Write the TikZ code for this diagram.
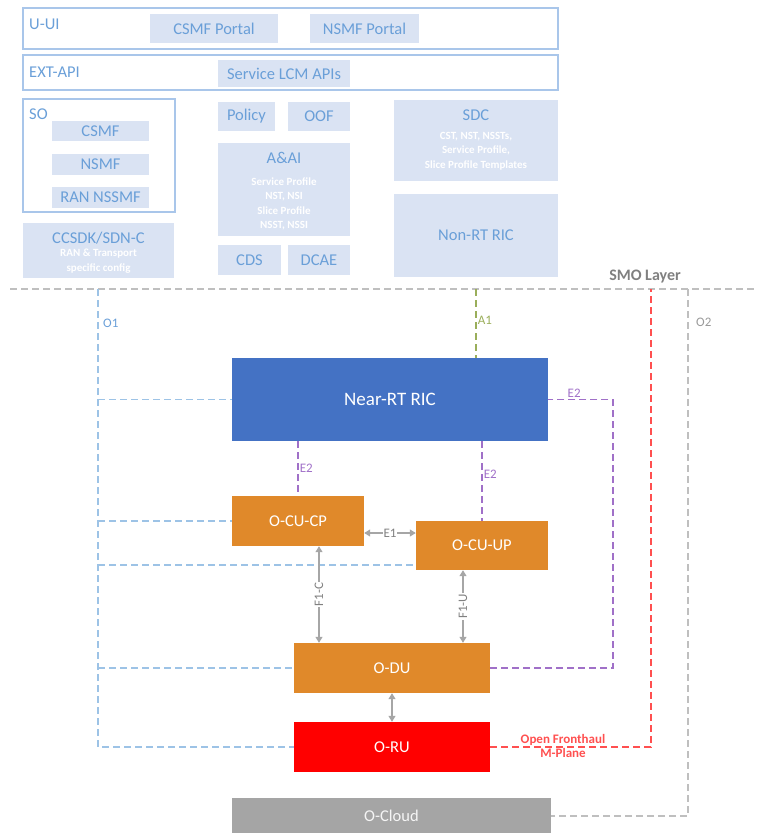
\documentclass[tikz,border=0pt]{standalone}
\usepackage{fontspec}
\setmainfont{Carlito}
\usetikzlibrary{arrows.meta}
\definecolor{lbfill}{HTML}{DAE3F3}
\definecolor{lbline}{HTML}{A9C6EA}
\definecolor{lbtext}{HTML}{6A9FD8}
\definecolor{ricblue}{HTML}{4472C4}
\definecolor{ranorange}{HTML}{E0892A}
\definecolor{cloudgray}{HTML}{A5A5A5}
\definecolor{o1col}{HTML}{9DC3E6}
\definecolor{e2col}{HTML}{A070C8}
\definecolor{a1col}{HTML}{9AAE5A}
\definecolor{mpcol}{HTML}{FF5050}
\definecolor{o2col}{HTML}{BFBFBF}
\definecolor{arrcol}{HTML}{A6A6A6}
\begin{document}
\begin{tikzpicture}[x=1pt, y=-1pt, font=\fontsize{16.5}{19}\selectfont, >={Triangle[width=7pt,length=6pt]},
	lbox/.style={fill=lbfill, text=lbtext, inner sep=0pt},
	frame/.style={draw=lbline, line width=1.2pt, inner sep=0pt},
	ranbox/.style={inner sep=0pt, text=white},
	sub/.style={text=white, align=center, font=\bfseries\fontsize{11}{14.5}\selectfont},
	lbl/.style={font=\fontsize{13}{15}\selectfont, inner sep=1pt},
	dashline/.style={line width=1.5pt, dash pattern=on 7pt off 4pt},
	arr/.style={draw=arrcol, line width=1.2pt, arrcol, <->}]
	\useasboundingbox (0,0) rectangle (758,833);
	\node[frame, minimum width=535pt, minimum height=41pt] (uui) at (290.5,28.5) {};
	\node[frame, minimum width=535pt, minimum height=35pt] (extapi) at (290.5,72.5) {};
	\node[frame, minimum width=152pt, minimum height=113pt] (so) at (99,155.5) {};
	\node[anchor=west, text=lbtext, inner sep=0pt] (uuilbl) at (29,24) {U-UI};
	\node[anchor=west, text=lbtext, inner sep=0pt] (extapilbl) at (29,72) {EXT-API};
	\node[anchor=west, text=lbtext, inner sep=0pt] (solbl) at (29,114) {SO};
	\foreach \n/\x/\y/\w/\h/\t in {csmfp/214/28.5/128/29/CSMF Portal, nsmfp/364.5/28.5/109/29/NSMF Portal,
		lcm/284/73.5/132/27/Service LCM APIs, csmf/100.5/131/97/20/CSMF, nsmf/100.5/164.5/97/21/NSMF,
		rannssmf/100.5/197.5/97/21/RAN NSSMF, policy/246.5/116.5/57/29/Policy, oof/319/116.5/62/29/OOF,
		cds/249.5/260/63/30/CDS, dcae/319/260/62/30/DCAE, nonrt/476/235.5/164/83/Non-RT RIC}{
		\node[lbox, minimum width=\w pt, minimum height=\h pt] (\n) at (\x,\y) {\t};
	}
	\node[lbox, minimum width=132pt, minimum height=93pt] (aai) at (284,189.5) {};
	\node[text=lbtext, inner sep=0pt] (aaititle) at (284,158) {A\&AI};
	\node[sub] (aaisub) at (284,204) {Service Profile\\NST, NSI\\Slice Profile\\NSST, NSSI};
	\node[lbox, minimum width=164pt, minimum height=81pt] (sdc) at (476,140.5) {};
	\node[text=lbtext, inner sep=0pt] (sdctitle) at (476,115) {SDC};
	\node[sub] (sdcsub) at (476,151) {CST, NST, NSSTs,\\Service Profile,\\Slice Profile Templates};
	\node[lbox, minimum width=151pt, minimum height=55pt] (ccsdk) at (98.5,250.5) {};
	\node[text=lbtext, inner sep=0pt] (ccsdktitle) at (98.5,238) {CCSDK/SDN-C};
	\node[sub] (ccsdksub) at (98.5,261) {RAN \& Transport\\specific config};
	\draw[o2col, line width=1.3pt, dash pattern=on 7pt off 4pt] (10,289) coordinate (smoa) -- (758,289) coordinate (smob);
	\node[text=gray, font=\bfseries\fontsize{16}{19}\selectfont, inner sep=0pt] (smolbl) at (645,277) {SMO Layer};
	\node[ranbox, fill=ricblue, minimum width=316pt, minimum height=83pt, font=\fontsize{19}{22}\selectfont] (nearrt) at (390,399.5) {Near-RT RIC};
	\node[ranbox, fill=ranorange, minimum width=132pt, minimum height=50pt] (ocucp) at (298,521) {O-CU-CP};
	\node[ranbox, fill=ranorange, minimum width=132pt, minimum height=49pt] (ocuup) at (482,545.5) {O-CU-UP};
	\node[ranbox, fill=ranorange, minimum width=196pt, minimum height=50pt] (odu) at (392,668) {O-DU};
	\node[ranbox, fill=red, minimum width=196pt, minimum height=50pt] (oru) at (392,747) {O-RU};
	\node[ranbox, fill=cloudgray, minimum width=319pt, minimum height=36pt, text=white!92!gray] (ocloud) at (391.5,816) {O-Cloud};
	\path (98,289) coordinate (o1top) (476,289) coordinate (a1top) (651,289) coordinate (mptop) (688,289) coordinate (o2top)
		(613,0) coordinate (e2x);
	\path (ocuup.south west) ++(0,-5) coordinate (o1up) (ocucp.east) ++(0,12) coordinate (e1a)
		(ocucp.south) ++(21,0) coordinate (f1c) (ocuup.south) ++(-19,0) coordinate (f1u);
	\draw[dashline, o1col] (o1top) |- (oru.west);
	\foreach \n in {nearrt, ocucp, odu}{
		\draw[dashline, o1col] (o1top |- \n.west) -- (\n.west);
	}
	\draw[dashline, o1col] (o1top |- o1up) -- (o1up);
	\node[lbl, anchor=west, text=lbtext] (o1lbl) at (102,323) {O1};
	\draw[dashline, a1col] (a1top) -- (a1top |- nearrt.north) node[lbl, pos=0.45, right, text=a1col]{A1};
	\draw[dashline, e2col] (nearrt.south -| ocucp.north) -- (ocucp.north) node[lbl, midway, right, text=e2col]{E2};
	\draw[dashline, e2col] (nearrt.south -| ocuup.north) -- (ocuup.north) node[lbl, pos=0.42, right, text=e2col]{E2};
	\draw[dashline, e2col] (odu.east) -| (e2x |- nearrt.east) -- (nearrt.east) node[lbl, pos=0.6, above, text=e2col]{E2};
	\draw[dashline, mpcol] (oru.east) -| (mptop);
	\node[lbl, above, text=mpcol, font=\bfseries\fontsize{13}{15}\selectfont] (oflbl) at (563,747) {Open Fronthaul};
	\node[lbl, below, text=mpcol, font=\bfseries\fontsize{13}{15}\selectfont] (mplbl) at (563,747) {M-Plane};
	\draw[dashline, o2col] (o2top) |- (ocloud.east);
	\node[lbl, anchor=west, text=gray!80] (o2lbl) at (695,322) {O2};
	\draw[arr] (e1a) -- (e1a -| ocuup.west) node[lbl, midway, fill=white, text=gray]{E1};
	\draw[arr] (f1c) -- (f1c |- odu.north) node[lbl, midway, fill=white, rotate=90, text=gray]{F1-C};
	\draw[arr] (f1u) -- (f1u |- odu.north) node[lbl, midway, fill=white, rotate=90, text=gray]{F1-U};
	\draw[arr] (odu.south) -- (oru.north);
\end{tikzpicture}
\end{document}
